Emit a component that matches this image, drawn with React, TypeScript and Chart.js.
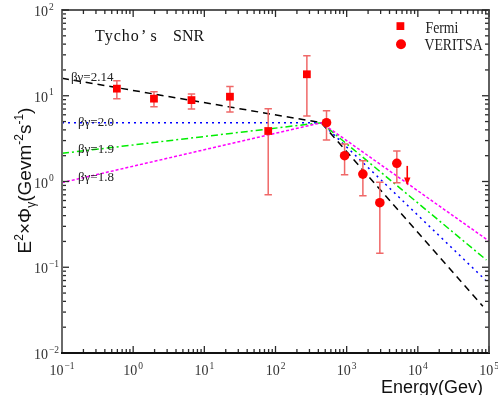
import React, { useEffect, useRef } from "react";
import { Chart, registerables } from "chart.js";
Chart.register(...registerables);

// ---- data ----
const fermiE = [0.59, 1.96, 6.6, 22.9, 79, 276];
const fermiFlux = [12.1, 9.25, 8.9, 9.75, 3.88, 17.8];
const fermiHi = [15.0, 11.1, 10.5, 12.8, 7.06, 29.3];
const fermiLo = [9.25, 7.45, 7.0, 6.46, 0.7, 5.8];

const veritasE = [521, 935, 1690, 2925, 5070];
const veritasFlux = [4.85, 2.0, 1.22, 0.566, 1.63];
const veritasHi = [6.7, 2.74, 1.75, 0.98, 2.27];
const veritasLo = [3.05, 1.2, 0.68, 0.146, 0.97];

const upperLimitE = [7100];
const upperLimitFrom = [1.52];
const upperLimitTo = [0.9];

const beta214E = [0.1, 440, 82000];
const beta214F = [16, 4.85, 0.035];
const beta20E = [0.1, 440, 89000];
const beta20F = [4.85, 4.85, 0.071];
const beta19E = [0.1, 440, 92000];
const beta19F = [2.13, 4.85, 0.1215];
const beta18E = [0.1, 440, 100000];
const beta18F = [0.97, 4.85, 0.202];

const modelLabels = ["βγ=2.14", "βγ=2.0", "βγ=1.9", "βγ=1.8"];
const legendLabels = ["Fermi", "VERITSA"];
const xTickExps = [-1, 0, 1, 2, 3, 4, 5];
const yTickExps = [-2, -1, 0, 1, 2];

const SERIF = '"Liberation Serif", "DejaVu Serif", serif';
const SANS = '"Liberation Sans", Arial, sans-serif';

const pts = (xs: number[], ys: number[]) => xs.map((v, i) => ({ x: v, y: ys[i] }));

function drawPow(ctx: CanvasRenderingContext2D, exp: number, x: number, y: number, mode: "center" | "right") {
  const base = "10";
  const e = exp < 0 ? "−" + Math.abs(exp) : String(exp);
  ctx.font = `14px ${SERIF}`;
  const wb = ctx.measureText(base).width;
  ctx.font = `9.5px ${SERIF}`;
  const we = ctx.measureText(e).width;
  let sx: number;
  if (mode === "center") sx = x - (wb + we + 1) / 2;
  else sx = x - wb;
  ctx.textAlign = "left";
  ctx.textBaseline = "alphabetic";
  ctx.font = `14px ${SERIF}`;
  ctx.fillText(base, sx, y);
  ctx.font = `9.5px ${SERIF}`;
  ctx.fillText(e, sx + wb + 1, y - 6.5);
}

function stretchedText(ctx: CanvasRenderingContext2D, t: string, x: number, y: number, sx: number) {
  ctx.save();
  ctx.translate(x, y);
  ctx.scale(sx, 1);
  ctx.fillText(t, 0, 0);
  ctx.restore();
}

const overlay = {
  id: "overlay",
  beforeDatasetDraw(chart: any, args: any) {
    if (args.index !== 1) return;
    const { ctx, scales } = chart;
    const xs = scales.x, ys = scales.y;
    ctx.save();
    ctx.strokeStyle = "#f06868";
    ctx.lineWidth = 1.5;
    const bars = (E: number[], lo: number[], hi: number[]) => {
      E.forEach((v, i) => {
        const px = xs.getPixelForValue(v);
        const y1 = ys.getPixelForValue(hi[i]);
        const y2 = ys.getPixelForValue(lo[i]);
        ctx.beginPath();
        ctx.moveTo(px, y1); ctx.lineTo(px, y2);
        ctx.moveTo(px - 3.7, y1); ctx.lineTo(px + 3.7, y1);
        ctx.moveTo(px - 3.7, y2); ctx.lineTo(px + 3.7, y2);
        ctx.stroke();
      });
    };
    bars(fermiE, fermiLo, fermiHi);
    bars(veritasE, veritasLo, veritasHi);
    ctx.restore();
  },
  afterDraw(chart: any) {
    const { ctx, chartArea: a, scales } = chart;
    const xs = scales.x, ys = scales.y;
    ctx.save();
    // upper limit arrow
    ctx.strokeStyle = "#ff0000";
    ctx.fillStyle = "#ff0000";
    ctx.lineWidth = 1.6;
    upperLimitE.forEach((v, i) => {
      const px = xs.getPixelForValue(v);
      const y1 = ys.getPixelForValue(upperLimitFrom[i]);
      const y2 = ys.getPixelForValue(upperLimitTo[i]);
      ctx.beginPath(); ctx.moveTo(px, y1); ctx.lineTo(px, y2 - 6); ctx.stroke();
      ctx.beginPath(); ctx.moveTo(px - 3.2, y2 - 8); ctx.lineTo(px + 3.2, y2 - 8); ctx.lineTo(px, y2); ctx.closePath(); ctx.fill();
    });

    // ticks
    const seg = (x1: number, y1: number, x2: number, y2: number) => {
      ctx.beginPath(); ctx.moveTo(x1, y1); ctx.lineTo(x2, y2); ctx.stroke();
    };
    ctx.lineWidth = 1.3;
    ctx.strokeStyle = "#2a2a2a";
    for (let d = xTickExps[0]; d <= xTickExps[xTickExps.length - 1]; d++) {
      for (let k = 1; k <= 9; k++) {
        if (d === xTickExps[xTickExps.length - 1] && k > 1) break;
        const px = xs.getPixelForValue(k * Math.pow(10, d));
        const len = k === 1 ? 7 : 4;
        seg(px, a.bottom, px, a.bottom - len);
        seg(px, a.top, px, a.top + len);
      }
    }
    for (let d = yTickExps[0]; d <= yTickExps[yTickExps.length - 1]; d++) {
      for (let k = 1; k <= 9; k++) {
        if (d === yTickExps[yTickExps.length - 1] && k > 1) break;
        const py = ys.getPixelForValue(k * Math.pow(10, d));
        const len = k === 1 ? 7 : 4;
        seg(a.left, py, a.left + len, py);
        seg(a.right, py, a.right - len, py);
      }
    }
    // frame
    ctx.lineWidth = 2;
    ctx.strokeStyle = "#6a6a6a";
    seg(a.left, a.top - 1, a.left, a.bottom + 1);
    ctx.strokeStyle = "#111";
    seg(a.left - 1, a.bottom, a.right + 1, a.bottom);
    ctx.lineWidth = 1.7;
    ctx.strokeStyle = "#222";
    seg(a.left, a.top, a.right + 1, a.top);
    ctx.strokeStyle = "#444";
    seg(a.right, a.top, a.right, a.bottom);

    // tick labels
    ctx.fillStyle = "#333";
    xTickExps.forEach((e) => drawPow(ctx, e, xs.getPixelForValue(Math.pow(10, e)), 375, "center"));
    yTickExps.forEach((e) => drawPow(ctx, e, 48, ys.getPixelForValue(Math.pow(10, e)) + 6, "right"));

    // x title
    ctx.fillStyle = "#111";
    ctx.font = `18px ${SANS}`;
    ctx.textAlign = "center";
    ctx.textBaseline = "alphabetic";
    ctx.fillText("Energy(Gev)", 432, 393);

    // y title (rotated, with super/subscripts)
    const parts: [string, number, number][] = [
      ["E", 19, 0], ["2", 12, -8], ["×", 19, 0], ["Φ", 19, 0], ["γ", 12, 4],
      ["(Gevm", 19, 0], ["-2", 12, -8], ["s", 19, 0], ["-1", 12, -8], [")", 19, 0],
    ];
    let total = 0;
    const widths = parts.map(([t, s]) => { ctx.font = `${s}px ${SANS}`; const w = ctx.measureText(t).width; total += w; return w; });
    ctx.save();
    ctx.translate(31, 180.5);
    ctx.rotate(-Math.PI / 2);
    ctx.textAlign = "left";
    let cx = -total / 2;
    parts.forEach(([t, s, dy], i) => {
      ctx.font = `${s}px ${SANS}`;
      ctx.fillText(t, cx, dy);
      cx += widths[i];
    });
    ctx.restore();

    // plot title
    ctx.fillStyle = "#111";
    ctx.textAlign = "left";
    ctx.font = `16px ${SERIF}`;
    (ctx as any).letterSpacing = "1px";
    ctx.fillText("Tycho", 95, 41);
    (ctx as any).letterSpacing = "0px";
    ctx.fillText("’", 141, 41);
    ctx.fillText("s", 150.5, 41);
    ctx.fillText("SNR", 173, 41);

    // model labels
    ctx.fillStyle = "#222";
    ctx.font = `13px ${SERIF}`;
    ctx.textBaseline = "middle";
    const lblPos: [number, number][] = [[71, 78], [78, 122.5], [78, 149.5], [78, 177.5]];
    modelLabels.forEach((t, i) => ctx.fillText(t, lblPos[i][0], lblPos[i][1]));

    // legend
    ctx.fillStyle = "#ff0000";
    ctx.fillRect(396.5, 22.2, 7.8, 7.8);
    ctx.beginPath(); ctx.arc(401, 44.2, 5, 0, Math.PI * 2); ctx.fill();
    ctx.fillStyle = "#222";
    ctx.font = `16px ${SERIF}`;
    ctx.textBaseline = "alphabetic";
    stretchedText(ctx, legendLabels[0], 425.5, 32.8, 0.86);
    stretchedText(ctx, legendLabels[1], 424.5, 50, 0.86);
    ctx.restore();
  },
};

export default function App() {
  const ref = useRef<HTMLCanvasElement>(null);
  useEffect(() => {
    const lineDs = (E: number[], F: number[], color: string, dash: number[]) => ({
      type: "line" as const,
      data: pts(E, F),
      borderColor: color,
      borderWidth: 1.5,
      borderDash: dash,
      pointRadius: 0,
      showLine: true,
      fill: false,
      tension: 0,
    });
    const chart = new Chart(ref.current!, {
      type: "scatter",
      data: {
        datasets: [
          {
            label: legendLabels[1],
            data: pts(veritasE, veritasFlux),
            pointStyle: "circle",
            pointRadius: 4.8,
            backgroundColor: "#ff0000",
            borderColor: "#ff0000",
            borderWidth: 0,
          },
          {
            label: legendLabels[0],
            data: pts(fermiE, fermiFlux),
            pointStyle: "rect",
            pointRadius: 5.5,
            backgroundColor: "#ff0000",
            borderColor: "#ff0000",
            borderWidth: 0,
          },
          lineDs(beta18E, beta18F, "#ff00ff", [3, 2]),
          lineDs(beta19E, beta19F, "#00ee00", [7, 3, 2, 3]),
          lineDs(beta20E, beta20F, "#0000ff", [2, 4]),
          lineDs(beta214E, beta214F, "#000000", [7, 5]),
        ] as any,
      },
      options: {
        responsive: false,
        animation: false,
        devicePixelRatio: 1,
        events: [],
        layout: { padding: { left: 62, right: 9, top: 10, bottom: 42 } },
        plugins: { legend: { display: false }, tooltip: { enabled: false } },
        scales: {
          x: { type: "logarithmic", min: 0.1, max: 1e5, display: false },
          y: { type: "logarithmic", min: 0.01, max: 100, display: false },
        },
      },
      plugins: [overlay],
    });
    return () => chart.destroy();
  }, []);
  return (
    <div style={{ position: "absolute", left: 0, top: 0, width: 498, height: 395, background: "#fff" }}>
      <canvas ref={ref} width={498} height={395} style={{ width: 498, height: 395, display: "block" }} />
    </div>
  );
}
